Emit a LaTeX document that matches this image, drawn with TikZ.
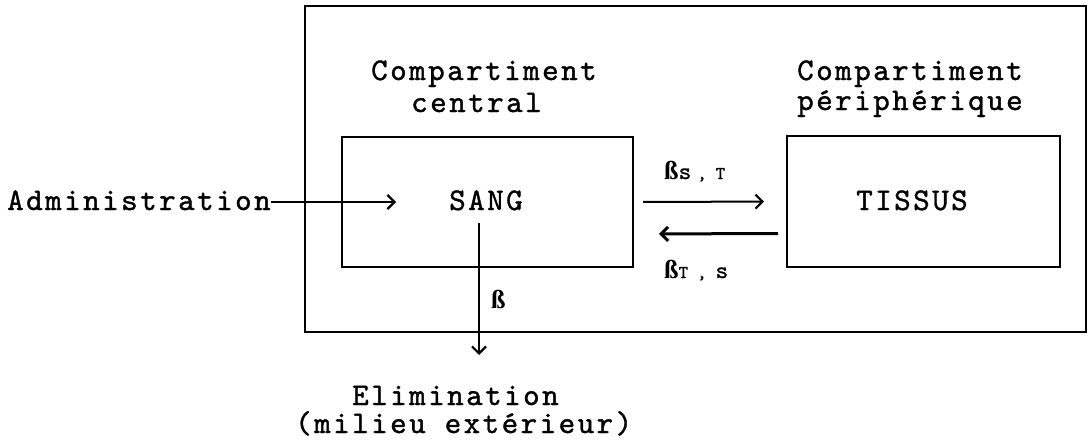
\documentclass[tikz,border=0pt]{standalone}
\usepackage{fontspec}
\setmainfont{Liberation Serif}
\newfontfamily\typew{lmmono10-regular.otf}[LetterSpace=7.8,FakeBold=1.2]
\newfontfamily\typesub{lmmono10-regular.otf}[FakeBold=1.2]
\usetikzlibrary{arrows.meta}
\begin{document}
\begin{tikzpicture}[x=1pt,y=-1pt,
  box/.style={draw, line width=2.4pt, inner sep=0pt, outer sep=0pt},
  txt/.style={font=\typew\fontsize{31.5}{36}\selectfont, inner sep=0pt, anchor=base west},
  lbl/.style={inner sep=0pt, anchor=base west},
  arr/.style={line width=2pt, -{Straight Barb[length=7pt,width=14pt,line width=2.2pt]}},
  arrb/.style={line width=3pt, -{Straight Barb[length=7pt,width=14pt,line width=3pt]}},
  beta/.style={font=\bfseries\fontsize{26}{26}\selectfont}
]
\useasboundingbox (0,0) rectangle (1089,442);
% boxes
\node[box, minimum width=781pt, minimum height=326pt] (outer) at (695.5,169) {};
\node[box, minimum width=291pt, minimum height=130pt] (sang) at (487.5,202) {};
\node[box, minimum width=273pt, minimum height=131pt] (tissus) at (923.5,201.5) {};
% texts
\node[txt] (sangtxt) at (449,210) {SANG};
\node[txt] (tissustxt) at (856,210) {TISSUS};
\node[txt] (admin) at (7,210) {Administration};
\node[txt] (cc1) at (371,80) {Compartiment};
\node[txt] (cc2) at (411,112) {central};
\node[txt] (cp1) at (797,80) {Compartiment};
\node[txt] (cp2) at (797,110) {périphérique};
\node[txt] (elim1) at (352,405) {Elimination};
\node[txt] (elim2) at (295,433) {(milieu extérieur)};
% labels
\node[lbl] (bst) at (664,179) {{\bfseries\fontsize{26}{26}\selectfont ß}{\typesub\fontsize{24}{24}\selectfont s}\hspace{6pt}{\typesub\fontsize{18}{18}\selectfont ,\hspace{9pt}T}};
\node[lbl] (bts) at (664,278) {{\bfseries\fontsize{26}{26}\selectfont ß}{\typesub\fontsize{18}{18}\selectfont T\hspace{9pt},}\hspace{9pt}{\typesub\fontsize{24}{24}\selectfont s}};
\node[lbl, beta] (b) at (491,308) {ß};
% connectors
\coordinate (admintip) at (396,202);
\coordinate (elimtop) at (479,223);
\coordinate (elimtip) at (479,355);
\draw[arr] (admin.east |- admintip) -- (admintip);
\draw[arr, shorten <=10pt, shorten >=23pt] (sang.east) -- (tissus.west);
\draw[arrb, shorten <=9pt, shorten >=26pt] ([yshift=-32pt]tissus.west) -- ([yshift=-32pt]sang.east);
\draw[arr] (elimtop) -- (elimtip);
\end{tikzpicture}
\end{document}
